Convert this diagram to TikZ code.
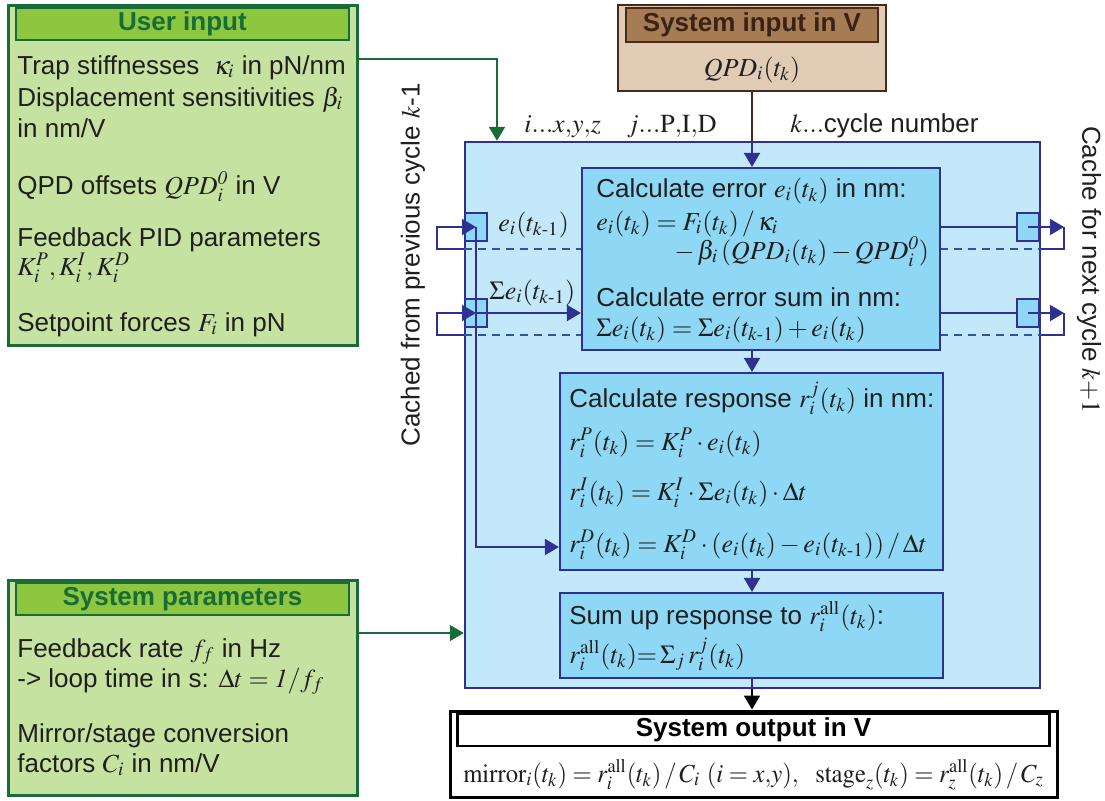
\documentclass[tikz,border=0pt]{standalone}
\usepackage{mathptmx}
\usepackage[no-math]{fontspec}
\setmainfont{Liberation Sans}
\usetikzlibrary{arrows.meta}

\definecolor{dkgreen}{RGB}{25,108,55}
\definecolor{ltgreen}{RGB}{198,226,160}
\definecolor{midgreen}{RGB}{141,198,63}
\definecolor{dkbrown}{RGB}{72,42,26}
\definecolor{midbrown}{RGB}{166,124,84}
\definecolor{tan}{RGB}{224,204,180}
\definecolor{dkblue}{RGB}{46,49,146}
\definecolor{dashblue}{RGB}{45,82,172}
\definecolor{paleblue}{RGB}{194,232,249}
\definecolor{cyanbox}{RGB}{142,216,246}

% k-1 with a short roman hyphen
\def\kmo{k\mathchar"002D 1}

\tikzset{
  txt/.style={anchor=base west, inner sep=0pt, text=black!88,
    font=\fontsize{13}{15.5}\selectfont},
  grnbox/.style={draw=dkgreen, line width=1.5pt, fill=ltgreen},
  grntitle/.style={draw=dkgreen, line width=1.3pt, fill=midgreen, inner sep=0pt,
    text=dkgreen, font=\fontsize{13}{15.5}\selectfont\bfseries},
  brnbox/.style={draw=dkbrown, line width=1.3pt, fill=tan},
  brntitle/.style={draw=dkbrown, line width=1.3pt, fill=midbrown, inner sep=0pt,
    text=dkbrown!80!black, font=\fontsize{13}{15.5}\selectfont\bfseries},
  loopbox/.style={draw=dkblue, line width=1.2pt, fill=paleblue},
  calcbox/.style={draw=dkblue, line width=1.1pt, fill=cyanbox},
  cachebox/.style={draw=dkblue, line width=1.1pt, fill=cyanbox,
    minimum width=11pt, minimum height=14pt, inner sep=0pt},
  blk/.style={draw=black, line width=1.5pt, fill=white},
  blktitle/.style={draw=black, line width=1.3pt, fill=white, inner sep=0pt,
    font=\fontsize{13}{15.5}\selectfont\bfseries},
  bline/.style={draw=dkblue, line width=1pt},
  barrow/.style={bline, -{Triangle[length=7pt,width=8pt]}},
  garrow/.style={draw=dkgreen, line width=1pt, -{Triangle[length=7pt,width=8pt]}},
  cachedash/.style={draw=dashblue, line width=1pt, dash pattern=on 4pt off 3pt},
}

\begin{document}
\begin{tikzpicture}[x=0.5pt,y=-0.5pt]
  %%%%% START %%%%%
  \useasboundingbox (0,0) rectangle (1105,800);

  % parameters set by the user
  \node[grnbox, minimum width=174.5pt, minimum height=170pt] (user) at (182.5,175) {};
  \node[grntitle, minimum width=166.5pt, minimum height=16pt] (usertitle) at (182.5,24) {User input};
  \node[txt] (u1) at (17,74) {Trap stiffnesses\ \ $\kappa_i$ in pN/nm};
  \node[txt] (u2) at (17,106) {Displacement sensitivities $\beta_i$};
  \node[txt] (u3) at (17,137) {in nm/V};
  \node[txt] (u4) at (17,194) {QPD offsets $QPD_i^{\mathit{0}}$ in V};
  \node[txt] (u5) at (17,246) {Feedback PID parameters};
  \node[txt] (u6) at (17,275) {$K_i^P, K_i^I, K_i^D$};
  \node[txt] (u7) at (17,331) {Setpoint forces $F_i$ in pN};

  % fixed system parameters
  \node[grnbox, minimum width=174.5pt, minimum height=107.5pt] (syspar) at (182.5,687.5) {};
  \node[grntitle, minimum width=166.5pt, minimum height=16pt] (spartitle) at (182.5,599) {System parameters};
  \node[txt] (p1) at (17,657) {Feedback rate $f_f$ in Hz};
  \node[txt] (p2) at (17,687) {-> loop time in s: $\Delta t = \mathit{1}/f_f$};
  \node[txt] (p3) at (17,742) {Mirror/stage conversion};
  \node[txt] (p4) at (17,772) {factors $C_i$ in nm/V};

  % QPD signal in
  \node[brnbox, minimum width=134pt, minimum height=43pt] (sysin) at (752,48) {};
  \node[brntitle, minimum width=126pt, minimum height=17pt] (sysintitle) at (752,25) {System input in V};
  \node[txt, anchor=base] (qpd) at (752,76) {$QPD_i(t_k)$};
  \coordinate (spine) at (752,0);

  \node[txt] (idx) at (524,132) {$i...x{,}y{,}z\quad j...\mathrm{P{,}I{,}D}$};
  \node[txt] (cyc) at (790,132) {$k...$cycle number};

  % feedback loop
  \node[loopbox, minimum width=287.5pt, minimum height=273pt] (loop) at (752.5,415) {};
  \node[txt, anchor=center, rotate=90] (prev) at (413,265) {Cached from previous cycle $k$-1};
  \node[txt, anchor=center, rotate=-90] (next) at (1089,270) {Cache for next cycle $k{+}1$};

  \coordinate (dashA) at (752,249);
  \coordinate (dashB) at (752,335);
  \draw[cachedash] (dashA -| loop.west) -- (dashA -| loop.east);
  \draw[cachedash] (dashB -| loop.west) -- (dashB -| loop.east);

  \node[calcbox, minimum width=179pt, minimum height=91pt] (err) at (761,259) {};
  \node[txt] (e1) at (596,197) {Calculate error $e_i(t_k)$ in nm:};
  \node[txt] (e2) at (596,230) {$e_i(t_k) = F_i(t_k)\,/\,\kappa_i$};
  \node[txt] (e3) at (674,259) {$-\,\beta_i\,(QPD_i(t_k) - QPD_i^{\mathit{0}})$};
  \node[txt] (e4) at (596,306) {Calculate error sum in nm:};
  \node[txt] (e5) at (596,336) {$\Sigma e_i(t_k) = \Sigma e_i(t_{\kmo}) + e_i(t_k)$};

  \node[calcbox, minimum width=191.5pt, minimum height=98.5pt] (resp) at (751.5,471.5) {};
  \node[txt] (r1) at (569,407) {Calculate response $r_i^j(t_k)$ in nm:};
  \node[txt] (r2) at (569,450) {$r_i^P(t_k) = K_i^P\cdot e_i(t_k)$};
  \node[txt] (r3) at (569,500) {$r_i^I(t_k) = K_i^I\cdot \Sigma e_i(t_k)\cdot \Delta t$};
  \node[txt] (r4) at (569,552) {$r_i^D(t_k) = K_i^D\cdot (e_i(t_k) - e_i(t_{\kmo}))\,/\,\Delta t$};

  \node[calcbox, minimum width=191.5pt, minimum height=42.5pt] (sum) at (751.5,635.5) {};
  \node[txt] (s1) at (569,624) {Sum up response to $r_i^{\mathrm{all}}(t_k)$:};
  \node[txt] (s2) at (569,663) {$r_i^{\mathrm{all}}(t_k) {=}\, \Sigma_j\, r_i^j(t_k)$};

  % cached values
  \node[cachebox] (cacheA) at (476,227) {};
  \node[cachebox] (cacheB) at (476,313) {};
  \node[cachebox] (cacheC) at (1028,227) {};
  \node[cachebox] (cacheD) at (1028,313) {};
  \node[txt] (lastE) at (498,231) {$e_i(t_{\kmo})$};
  \node[txt] (lastS) at (489,299) {$\Sigma e_i(t_{\kmo})$};

  \draw[barrow] (dashA -| loop.west) -- ++(-27,0) |- (cacheA.center);
  \draw[barrow] (dashB -| loop.west) -- ++(-27,0) |- (cacheB.center);
  \coordinate (dlev) at (476,547);
  \draw[barrow] (cacheA.center) -- (dlev) -- (dlev -| resp.west);
  \draw[barrow] (cacheB.center) -- (cacheB.center -| err.west);

  \draw[bline] (cacheC -| err.east) -- (cacheC.west);
  \draw[bline] (cacheD -| err.east) -- (cacheD.west);
  \draw[barrow] (cacheC.center) -- ++(36,0);
  \draw[bline] (cacheC.center) ++(36,0) |- (dashA -| loop.east);
  \draw[barrow] (cacheD.center) -- ++(36,0);
  \draw[bline] (cacheD.center) ++(36,0) |- (dashB -| loop.east);

  % flow through the loop
  \draw[draw=dkbrown, line width=1pt] (spine |- sysin.south) -- (spine |- loop.north);
  \draw[barrow] (spine |- loop.north) -- (spine |- err.north);
  \draw[barrow] (spine |- err.south) -- (spine |- resp.north);
  \draw[barrow] (spine |- resp.south) -- (spine |- sum.north);
  \draw[bline] (spine |- sum.south) -- (spine |- loop.south);

  % voltages out
  \node[blk, minimum width=303.5pt, minimum height=43pt] (sysout) at (753.5,754) {};
  \node[blktitle, minimum width=296pt, minimum height=16pt] (sysouttitle) at (753.5,730) {System output in V};
  \node[txt, anchor=base] (outeq) at (753.5,782) {\scalebox{0.95}[1]{$\mathrm{mirror}_i(t_k) = r_i^{\mathrm{all}}(t_k)\,/\,C_i\ (i = x{,}y),\ \ \mathrm{stage}_z(t_k) = r_z^{\mathrm{all}}(t_k)\,/\,C_z$}};
  \draw[line width=1pt, -{Triangle[length=7pt,width=8pt]}] (spine |- loop.south) -- (spine |- sysout.north);

  % inputs into the loop
  \coordinate (ucorner) at (497,59);
  \draw[garrow] (ucorner -| user.east) -- (ucorner) -- (ucorner |- loop.north);
  \coordinate (pcorner) at (400,633);
  \draw[garrow] (pcorner -| syspar.east) -- (pcorner -| loop.west);

  %%%%% END %%%%%
\end{tikzpicture}
\end{document}
